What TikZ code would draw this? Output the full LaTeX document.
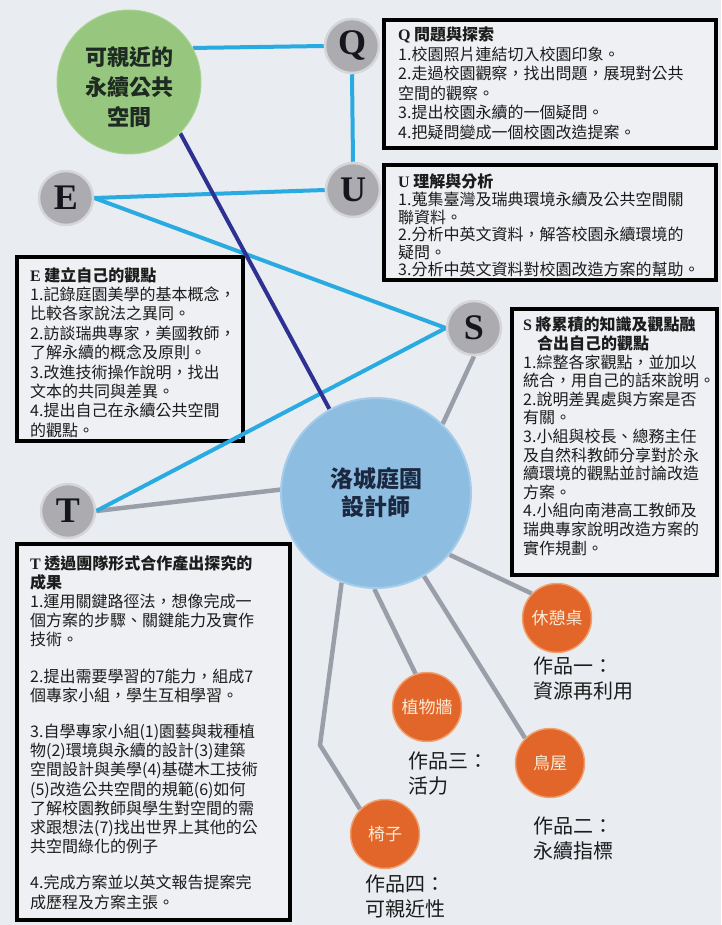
\documentclass[tikz,border=0pt]{standalone}
\usepackage{fontspec}
\newfontfamily\cjk{Noto Sans CJK TC}
\newfontfamily\lser{Liberation Serif}
\usetikzlibrary{backgrounds}
\pgfdeclarelayer{edges}
\pgfsetlayers{background,edges,main}
\definecolor{bgc}{HTML}{E9EDF2}
\definecolor{boxc}{HTML}{EEF0F3}
\definecolor{txtc}{HTML}{1C1C1C}
\definecolor{greenc}{HTML}{97C77E}
\definecolor{greenrim}{HTML}{A9D391}
\definecolor{greentxt}{HTML}{1F2B22}
\definecolor{ctrc}{HTML}{8DBDE0}
\definecolor{ctrrim}{HTML}{A5CDEB}
\definecolor{ctrtxt}{HTML}{1C2740}
\definecolor{grayc}{HTML}{ABABB0}
\definecolor{grayrim}{HTML}{D6D6DA}
\definecolor{letc}{HTML}{15151E}
\definecolor{orc}{HTML}{E2662A}
\definecolor{orrim}{HTML}{F0A06E}
\definecolor{cream}{HTML}{FAEBD7}
\definecolor{lblue}{HTML}{29ABE2}
\definecolor{dblue}{HTML}{2E3192}
\definecolor{glc}{HTML}{9A9EA8}
\begin{document}
\begin{tikzpicture}[x=1pt,y=-1pt,
  box/.style={rectangle,draw=black,line width=4pt,fill=boxc,inner sep=0pt},
  btext/.style={anchor=north west,inner sep=0pt,align=left,text=txtc},
  letter/.style={circle,fill=grayc,draw=grayrim,line width=2.5pt,minimum size=54pt,inner sep=0pt,
    font=\lser\bfseries\fontsize{36}{36}\selectfont,text=letc},
  orangec/.style={circle,fill=orc,draw=orrim,line width=1.5pt,minimum size=69pt,inner sep=0pt,
    font=\cjk\fontsize{17}{17}\selectfont,text=cream},
  work/.style={anchor=north west,inner sep=0pt,align=left,text=txtc,font=\cjk\fontsize{20}{25}\selectfont},
  lb/.style={line width=4pt,draw=lblue},
  db/.style={line width=4pt,draw=dblue},
  gl/.style={line width=4.5pt,draw=glc}
]
\useasboundingbox (0,0) rectangle (721,925);
\begin{pgfonlayer}{background}
\fill[bgc] (0,0) rectangle (721,925);
\node[box,minimum width=332pt,minimum height=128pt] (qbox) at (550,84) {};
\node[box,minimum width=332pt,minimum height=115pt] (ubox) at (550,222.5) {};
\node[box,minimum width=226pt,minimum height=184pt] (ebox) at (130,349) {};
\node[box,minimum width=205pt,minimum height=266pt] (sbox) at (614.5,442) {};
\node[box,minimum width=273pt,minimum height=376pt] (tbox) at (153.5,732) {};
\end{pgfonlayer}

% box texts
\node[btext,font=\cjk\fontsize{16}{19.5}\selectfont] (qtext) at (398,27) {%
{\lser\bfseries Q} {\bfseries 問題與探索}\\
1.校園照片連結切入校園印象。\\
2.走過校園觀察，找出問題，展現對公共\\
空間的觀察。\\
3.提出校園永續的一個疑問。\\
4.把疑問變成一個校園改造提案。};
\node[btext,font=\cjk\fontsize{16}{17.6}\selectfont] (utext) at (398,174) {%
{\lser\bfseries U} {\bfseries 理解與分析}\\
1.蒐集臺灣及瑞典環境永續及公共空間關\\
聯資料。\\
2.分析中英文資料，解答校園永續環境的\\
疑問。\\
3.分析中英文資料對校園改造方案的幫助。};
\node[btext,font=\cjk\fontsize{16}{19.4}\selectfont] (etext) at (30,267) {%
{\lser\bfseries E} {\bfseries 建立自己的觀點}\\
1.記錄庭園美學的基本概念，\\
比較各家說法之異同。\\
2.訪談瑞典專家，美國教師，\\
了解永續的概念及原則。\\
3.改進技術操作說明，找出\\
文本的共同與差異。\\
4.提出自己在永續公共空間\\
的觀點。};
\node[btext,font=\cjk\fontsize{16}{18.6}\selectfont] (stext) at (523,317) {%
{\lser\bfseries S} {\bfseries 將累積的知識及觀點融}\\
\hspace*{14pt}{\bfseries 合出自己的觀點}\\
1.綜整各家觀點，並加以\\
統合，用自己的話來說明。\\
2.說明差異處與方案是否\\
有關。\\
3.小組與校長、總務主任\\
及自然科教師分享對於永\\
續環境的觀點並討論改造\\
方案。\\
4.小組向南港高工教師及\\
瑞典專家說明改造方案的\\
實作規劃。};
\node[btext,font=\cjk\fontsize{16}{19.2}\selectfont] (ttext) at (30,555) {%
{\lser\bfseries T} {\bfseries 透過團隊形式合作產出探究的}\\
{\bfseries 成果}\\
1.運用關鍵路徑法，想像完成一\\
個方案的步驟、關鍵能力及實作\\
技術。\\[17pt]
2.提出需要學習的7能力，組成7\\
個專家小組，學生互相學習。\\[17pt]
3.自學專家小組(1)園藝與栽種植\\
物(2)環境與永續的設計(3)建築\\
空間設計與美學(4)基礎木工技術\\
(5)改造公共空間的規範(6)如何\\
了解校園教師與學生對空間的需\\
求跟想法(7)找出世界上其他的公\\
共空間綠化的例子\\[17pt]
4.完成方案並以英文報告提案完\\
成歷程及方案主張。};

% circles
\node[circle,fill=greenc,draw=greenrim,line width=1pt,minimum size=144pt,inner sep=0pt] (green) at (129,82) {};
\node[inner sep=0pt,align=center,text=greentxt,font=\cjk\bfseries\fontsize{22}{30}\selectfont] (gtext) at (129,87) {可親近的\\永續公共\\空間};
\node[letter] (Q) at (352,46) {Q};
\node[letter] (U) at (353,190) {U};
\node[letter] (E) at (66,198) {E};
\node[letter] (S) at (474,328) {S};
\node[letter] (T) at (68,511) {T};
\node[circle,fill=ctrc,draw=ctrrim,line width=2pt,minimum size=190pt,inner sep=0pt,align=center,
  text=ctrtxt,font=\cjk\bfseries\fontsize{23}{28}\selectfont] (ctr) at (376,493) {洛城庭園\\設計師};
\node[orangec] (o1) at (557,618) {休憩桌};
\node[orangec] (o3) at (427,707) {植物牆};
\node[orangec] (o2) at (550,763) {鳥屋};
\node[orangec] (o4) at (385,834) {椅子};
\node[work] (w1) at (533,657) {作品一：\\資源再利用};
\node[work] (w3) at (408,752) {作品三：\\活力};
\node[work] (w2) at (533,817) {作品二：\\永續指標};
\node[work] (w4) at (365,875) {作品四：\\可親近性};
\coordinate (bend) at (320,745);

\begin{pgfonlayer}{edges}
\draw[gl] (S.south) -- (ctr.46);
\draw[gl] (T.east) -- (ctr.178);
\draw[gl] (ctr.-40) -- (o1.136);
\draw[gl] (ctr.-91) -- (o3.109);
\draw[gl] (ctr.-60) -- (o2.135);
\draw[gl] (ctr.-111) -- (bend) -- (o4.135);
\draw[lb] (green.28) -- (Q.west);
\draw[lb] (Q.south) -- (U.north);
\draw[lb] (E.east) -- (U.west);
\draw[lb] (E.east) -- (S.west);
\draw[lb] (T.east) -- (S.west);
\draw[db] (green.-45) -- (ctr.119.5);
\end{pgfonlayer}
\end{tikzpicture}
\end{document}
